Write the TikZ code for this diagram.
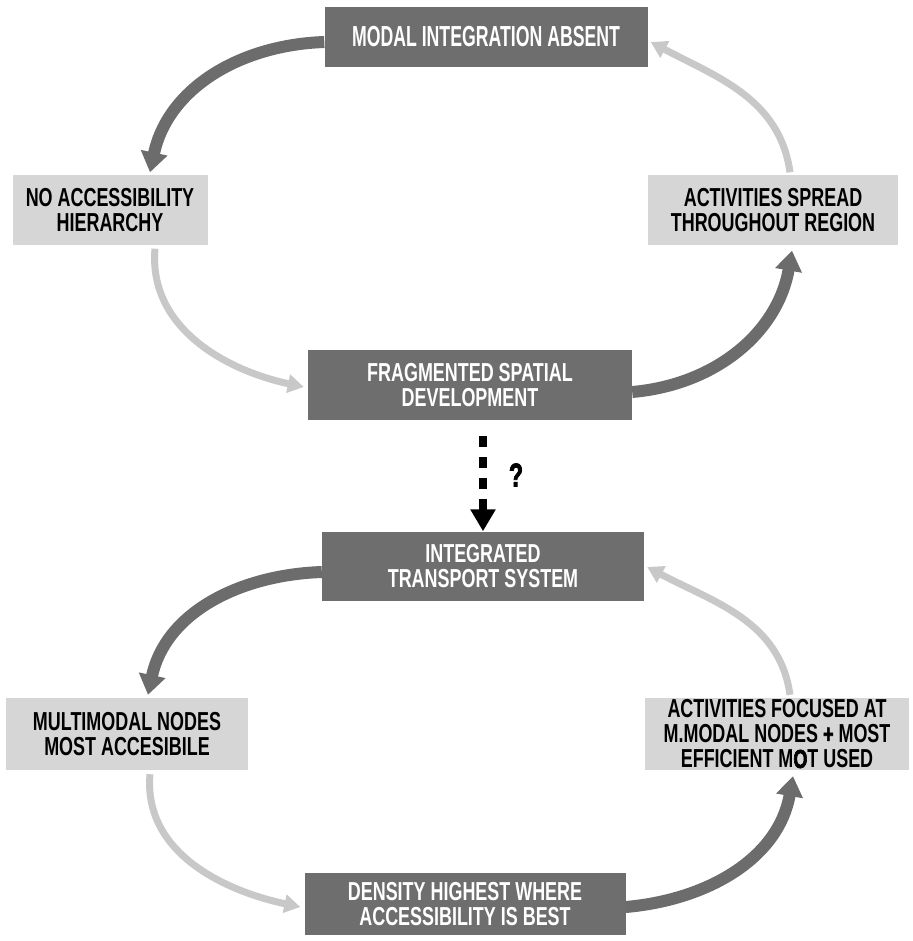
\documentclass[tikz,border=0pt]{standalone}
\usepackage{xcolor}
\usepackage{fontspec}
\setmainfont{Liberation Sans}[FakeStretch=0.69]
\newfontface\heavyface{Liberation Sans Bold}[FakeStretch=0.69, FakeBold=2.5]
\newfontface\titleface{Liberation Sans Bold}[FakeStretch=0.61]
\usepackage{tikz}
\usetikzlibrary{arrows.meta, positioning, calc}
\definecolor{boxdark}{HTML}{6E6E6E}
\definecolor{boxlight}{HTML}{D6D6D6}
\definecolor{arrowdark}{HTML}{6C6C6C}
\definecolor{arrowlight}{HTML}{C8C8C8}

\tikzset{
  darkbox/.style={fill=boxdark, text=white, align=center, inner sep=0pt,
    font=\fontsize{26}{25}\selectfont\bfseries},
  lightbox/.style={fill=boxlight, text=black, align=center, inner sep=0pt,
    font=\fontsize{26}{25}\selectfont\bfseries},
  darkflow/.style={draw=arrowdark, line width=12pt,
    -{Triangle[width=26pt,length=20pt]}},
  lightflow/.style={draw=arrowlight, line width=7pt,
    -{Triangle[width=18pt,length=16pt]}},
  maybeflow/.style={draw=black, line width=8pt, dash pattern=on 11pt off 10pt,
    -{Triangle[width=24pt,length=22pt]}}
}

\begin{document}
\begin{tikzpicture}[x=1pt, y=1pt]
\useasboundingbox (0,0) rectangle (912,-941);

% first loop
\node[darkbox, minimum width=323pt, minimum height=60pt, font=\fontsize{29}{25}\titleface] (absent) at (486,-37) {MODAL INTEGRATION ABSENT};
\node[lightbox, minimum width=195pt, minimum height=69pt] (hier) at (110,-210) {NO ACCESSIBILITY\\HIERARCHY};
\node[lightbox, minimum width=250pt, minimum height=69pt] (spread) at (773,-210) {ACTIVITIES SPREAD\\THROUGHOUT REGION};
\node[darkbox, minimum width=324pt, minimum height=70pt] (frag) at (470,-385) {FRAGMENTED SPATIAL\\DEVELOPMENT};

\draw[darkflow] (absent.west |- 0,-42) to[out=182, in=78] ([xshift=40pt, yshift=3pt]hier.north);
\draw[lightflow] ([xshift=45pt, yshift=-4pt]hier.south) to[out=-95, in=168] ([xshift=-4pt, yshift=-2pt]frag.west);
\draw[darkflow] ([yshift=-7pt]frag.east) to[out=5, in=-100] ([xshift=19pt, yshift=-6pt]spread.south);
\draw[lightflow] ([xshift=17pt, yshift=3pt]spread.north) to[out=98, in=-28] ([xshift=3pt, yshift=-5pt]absent.east);

% second loop
\node[darkbox, minimum width=322pt, minimum height=69pt] (integ) at (483,-566) {INTEGRATED\\TRANSPORT SYSTEM};
\node[lightbox, minimum width=242pt, minimum height=72pt] (multi) at (127,-734) {MULTIMODAL NODES\\MOST ACCESIBILE};
\node[lightbox, minimum width=264pt, minimum height=72pt] (focus) at (777,-734) {ACTIVITIES FOCUSED AT\\M.MODAL NODES {\heavyface +} MOST\\EFFICIENT M{\heavyface O}T USED};
\node[darkbox, minimum width=321pt, minimum height=62pt] (dens) at (465,-904) {DENSITY HIGHEST WHERE\\ACCESSIBILITY IS BEST};

% the step between
\draw[maybeflow] ([yshift=-16pt]frag.south -| integ.north) -- (integ.north);
\node[font=\fontsize{33}{33}\heavyface] (ask) at (516,-475) {?};

\draw[darkflow] ([yshift=-6pt]integ.west) to[out=182, in=78] ([xshift=21pt, yshift=3pt]multi.north);
\draw[lightflow] ([xshift=23pt, yshift=-4pt]multi.south) to[out=-95, in=168] ([xshift=-4pt, yshift=-3pt]dens.west);
\draw[darkflow] ([yshift=-3pt]dens.east) to[out=5, in=-100] ([xshift=16pt, yshift=-6pt]focus.south);
\draw[lightflow] ([xshift=13pt, yshift=3pt]focus.north) to[out=98, in=-28] ([xshift=3pt, yshift=-1pt]integ.east);
\end{tikzpicture}
\end{document}
